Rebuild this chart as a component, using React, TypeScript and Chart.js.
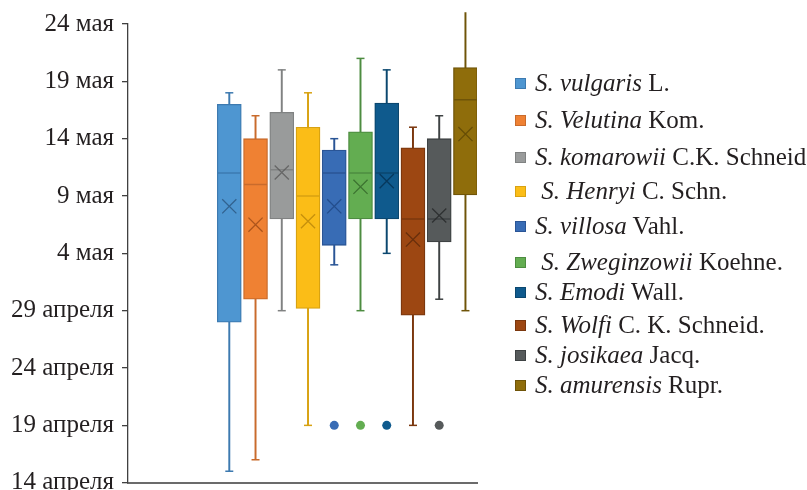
import React, { useEffect, useRef } from "react";
import { Chart, registerables } from "chart.js";

Chart.register(...registerables);

// Species (italic part) and authors (upright part)
const speciesNames = [
  "S. vulgaris",
  "S. Velutina",
  "S. komarowii",
  " S. Henryi",
  "S. villosa",
  " S. Zweginzowii",
  "S. Emodi",
  "S. Wolfi",
  "S. josikaea",
  "S. amurensis",
];
const speciesAuthors = [
  "L.",
  "Kom.",
  "C.K. Schneid",
  "C. Schn.",
  "Vahl.",
  "Koehne.",
  "Wall.",
  "C. K. Schneid.",
  "Jacq.",
  "Rupr.",
];

// Values in days counted from 14 April (0 = 14 апреля, 40 = 24 мая)
const minValues = [1, 2, 15, 5, 19, 15, 20, 5, 16, 15];
const q1Values = [14, 16, 23, 15.2, 20.7, 23, 23, 14.6, 21, 25.1];
const medianValues = [27, 26, 27.3, 25, 27, 27, 27, 23, 23, 33.4];
const q3Values = [33, 30, 32.3, 31, 29, 30.6, 33.1, 29.2, 30, 36.2];
const maxValues = [34, 32, 36, 34, 30, 37, 36, 31, 32, 41];
const meanValues = [24.1, 22.5, 27.05, 22.8, 24.1, 25.8, 26.3, 21.2, 23.3, 30.4];
const outlierValues: (number | null)[] = [null, null, null, null, 5, 5, 5, null, 5, null];

const yTickLabels = [
  "14 апреля",
  "19 апреля",
  "24 апреля",
  "29 апреля",
  "4 мая",
  "9 мая",
  "14 мая",
  "19 мая",
  "24 мая",
];

const fillColors = [
  "#4e96d1",
  "#ef8133",
  "#999b9b",
  "#fbbd17",
  "#386cb5",
  "#63ad51",
  "#0f5a8d",
  "#9d4712",
  "#565a5b",
  "#8f6d0b",
];
const lineColors = [
  "#3d7ab0",
  "#c96b2c",
  "#808282",
  "#d8a212",
  "#2a5596",
  "#4d8c40",
  "#0b476f",
  "#7b370e",
  "#3e4243",
  "#6f5408",
];
const meanColors = [
  "rgba(40,80,120,0.75)",
  "rgba(150,70,20,0.75)",
  "rgba(90,90,90,0.8)",
  "rgba(180,130,10,0.75)",
  "rgba(30,70,130,0.8)",
  "rgba(50,100,40,0.8)",
  "rgba(5,50,85,0.85)",
  "rgba(90,40,10,0.8)",
  "rgba(40,42,44,0.85)",
  "rgba(95,72,5,0.85)",
];

// layout (not data)
const legendRowCenters = [83, 120, 157, 191, 226, 262, 292, 325, 355, 385];

export default function App() {
  const canvasRef = useRef<HTMLCanvasElement | null>(null);

  useEffect(() => {
    if (!canvasRef.current) return;
    const xs = speciesNames.map((_, i) => i + 1);

    const capData: { x: number; y: number }[] = [];
    const capColors: string[] = [];
    xs.forEach((x, i) => {
      capData.push({ x, y: minValues[i] });
      capData.push({ x, y: maxValues[i] });
      capColors.push(lineColors[i], lineColors[i]);
    });

    const outData: { x: number; y: number }[] = [];
    const outColors: string[] = [];
    xs.forEach((x, i) => {
      const v = outlierValues[i];
      if (v !== null) {
        outData.push({ x, y: v });
        outColors.push(fillColors[i]);
      }
    });

    const chart = new Chart(canvasRef.current, {
      type: "bar",
      data: {
        datasets: [
          {
            type: "bar",
            data: xs.map((x, i) => ({ x, y: [q1Values[i], q3Values[i]] })) as any,
            backgroundColor: fillColors,
            borderColor: lineColors,
            borderWidth: 1.3,
            borderSkipped: false,
            barThickness: 24,
            grouped: false,
            order: 2,
          } as any,
          {
            type: "bar",
            data: xs.map((x, i) => ({ x, y: [minValues[i], maxValues[i]] })) as any,
            backgroundColor: lineColors,
            borderWidth: 0,
            barThickness: 1.3,
            grouped: false,
            clip: false,
            order: 3,
          } as any,
          {
            type: "line",
            showLine: false,
            data: xs.map((x, i) => ({ x, y: medianValues[i] })),
            pointStyle: "line",
            pointRadius: 11.5,
            pointBorderColor: lineColors,
            pointBorderWidth: 1.5,
            order: 1,
          } as any,
          {
            type: "line",
            showLine: false,
            data: xs.map((x, i) => ({ x, y: meanValues[i] })),
            pointStyle: "crossRot",
            pointRadius: 10,
            pointBorderColor: meanColors,
            pointBorderWidth: 1.3,
            order: 0,
          } as any,
          {
            type: "line",
            showLine: false,
            data: capData,
            pointStyle: "line",
            pointRadius: 4,
            pointBorderColor: capColors,
            pointBorderWidth: 1.5,
            clip: false,
            order: 1,
          } as any,
          {
            type: "line",
            showLine: false,
            data: outData,
            pointStyle: "circle",
            pointRadius: 4.5,
            pointBackgroundColor: outColors,
            pointBorderColor: outColors,
            pointBorderWidth: 0,
            order: 0,
          } as any,
        ],
      },
      options: {
        animation: false,
        responsive: false,
        devicePixelRatio: 1,
        layout: { autoPadding: false, padding: { left: 0, right: 330, top: 24, bottom: 7.3 } },
        plugins: { legend: { display: false }, tooltip: { enabled: false } },
        events: [],
        scales: {
          x: {
            type: "linear",
            offset: false,
            min: -2.86,
            max: 10.44,
            grid: { display: false, drawTicks: false },
            ticks: { display: false },
            border: { display: true, color: "#6b6b6b", width: 2 },
          },
          y: {
            min: 0,
            max: 40,
            ticks: {
              stepSize: 5,
              padding: 8,
              color: "#231f20",
              font: { family: "'Liberation Serif'", size: 25 },
              callback: (v: any) => yTickLabels[Math.round(Number(v) / 5)],
            },
            grid: {
              drawOnChartArea: false,
              drawTicks: true,
              tickLength: 6,
              color: "#404040",
              lineWidth: 1.3,
            },
            border: { display: true, color: "#404040", width: 1.3 },
            afterFit: (scale: any) => {
              scale.width = 128;
              scale.paddingTop = 0;
              scale.paddingBottom = 0;
            },
          },
        },
      } as any,
    });
    return () => chart.destroy();
  }, []);

  return (
    <div
      style={{
        position: "absolute",
        left: 0,
        top: 0,
        width: 807,
        height: 490,
        overflow: "hidden",
        background: "#ffffff",
      }}
    >
      <canvas ref={canvasRef} width={807} height={490} style={{ width: 807, height: 490, display: "block" }} />
      {speciesNames.map((name, i) => (
        <div
          key={i}
          style={{
            position: "absolute",
            left: 515,
            top: legendRowCenters[i] - 15,
            height: 30,
            display: "flex",
            alignItems: "center",
            whiteSpace: "pre",
            fontFamily: "'Liberation Serif', serif",
            fontSize: 25,
            color: "#231f20",
          }}
        >
          <span
            style={{
              display: "inline-block",
              width: 9,
              height: 9,
              background: fillColors[i],
              border: `1px solid ${lineColors[i]}`,
              marginRight: 9,
            }}
          />
          <span style={{ fontStyle: "italic" }}>{name}</span>
          <span>{" " + speciesAuthors[i]}</span>
        </div>
      ))}
    </div>
  );
}
